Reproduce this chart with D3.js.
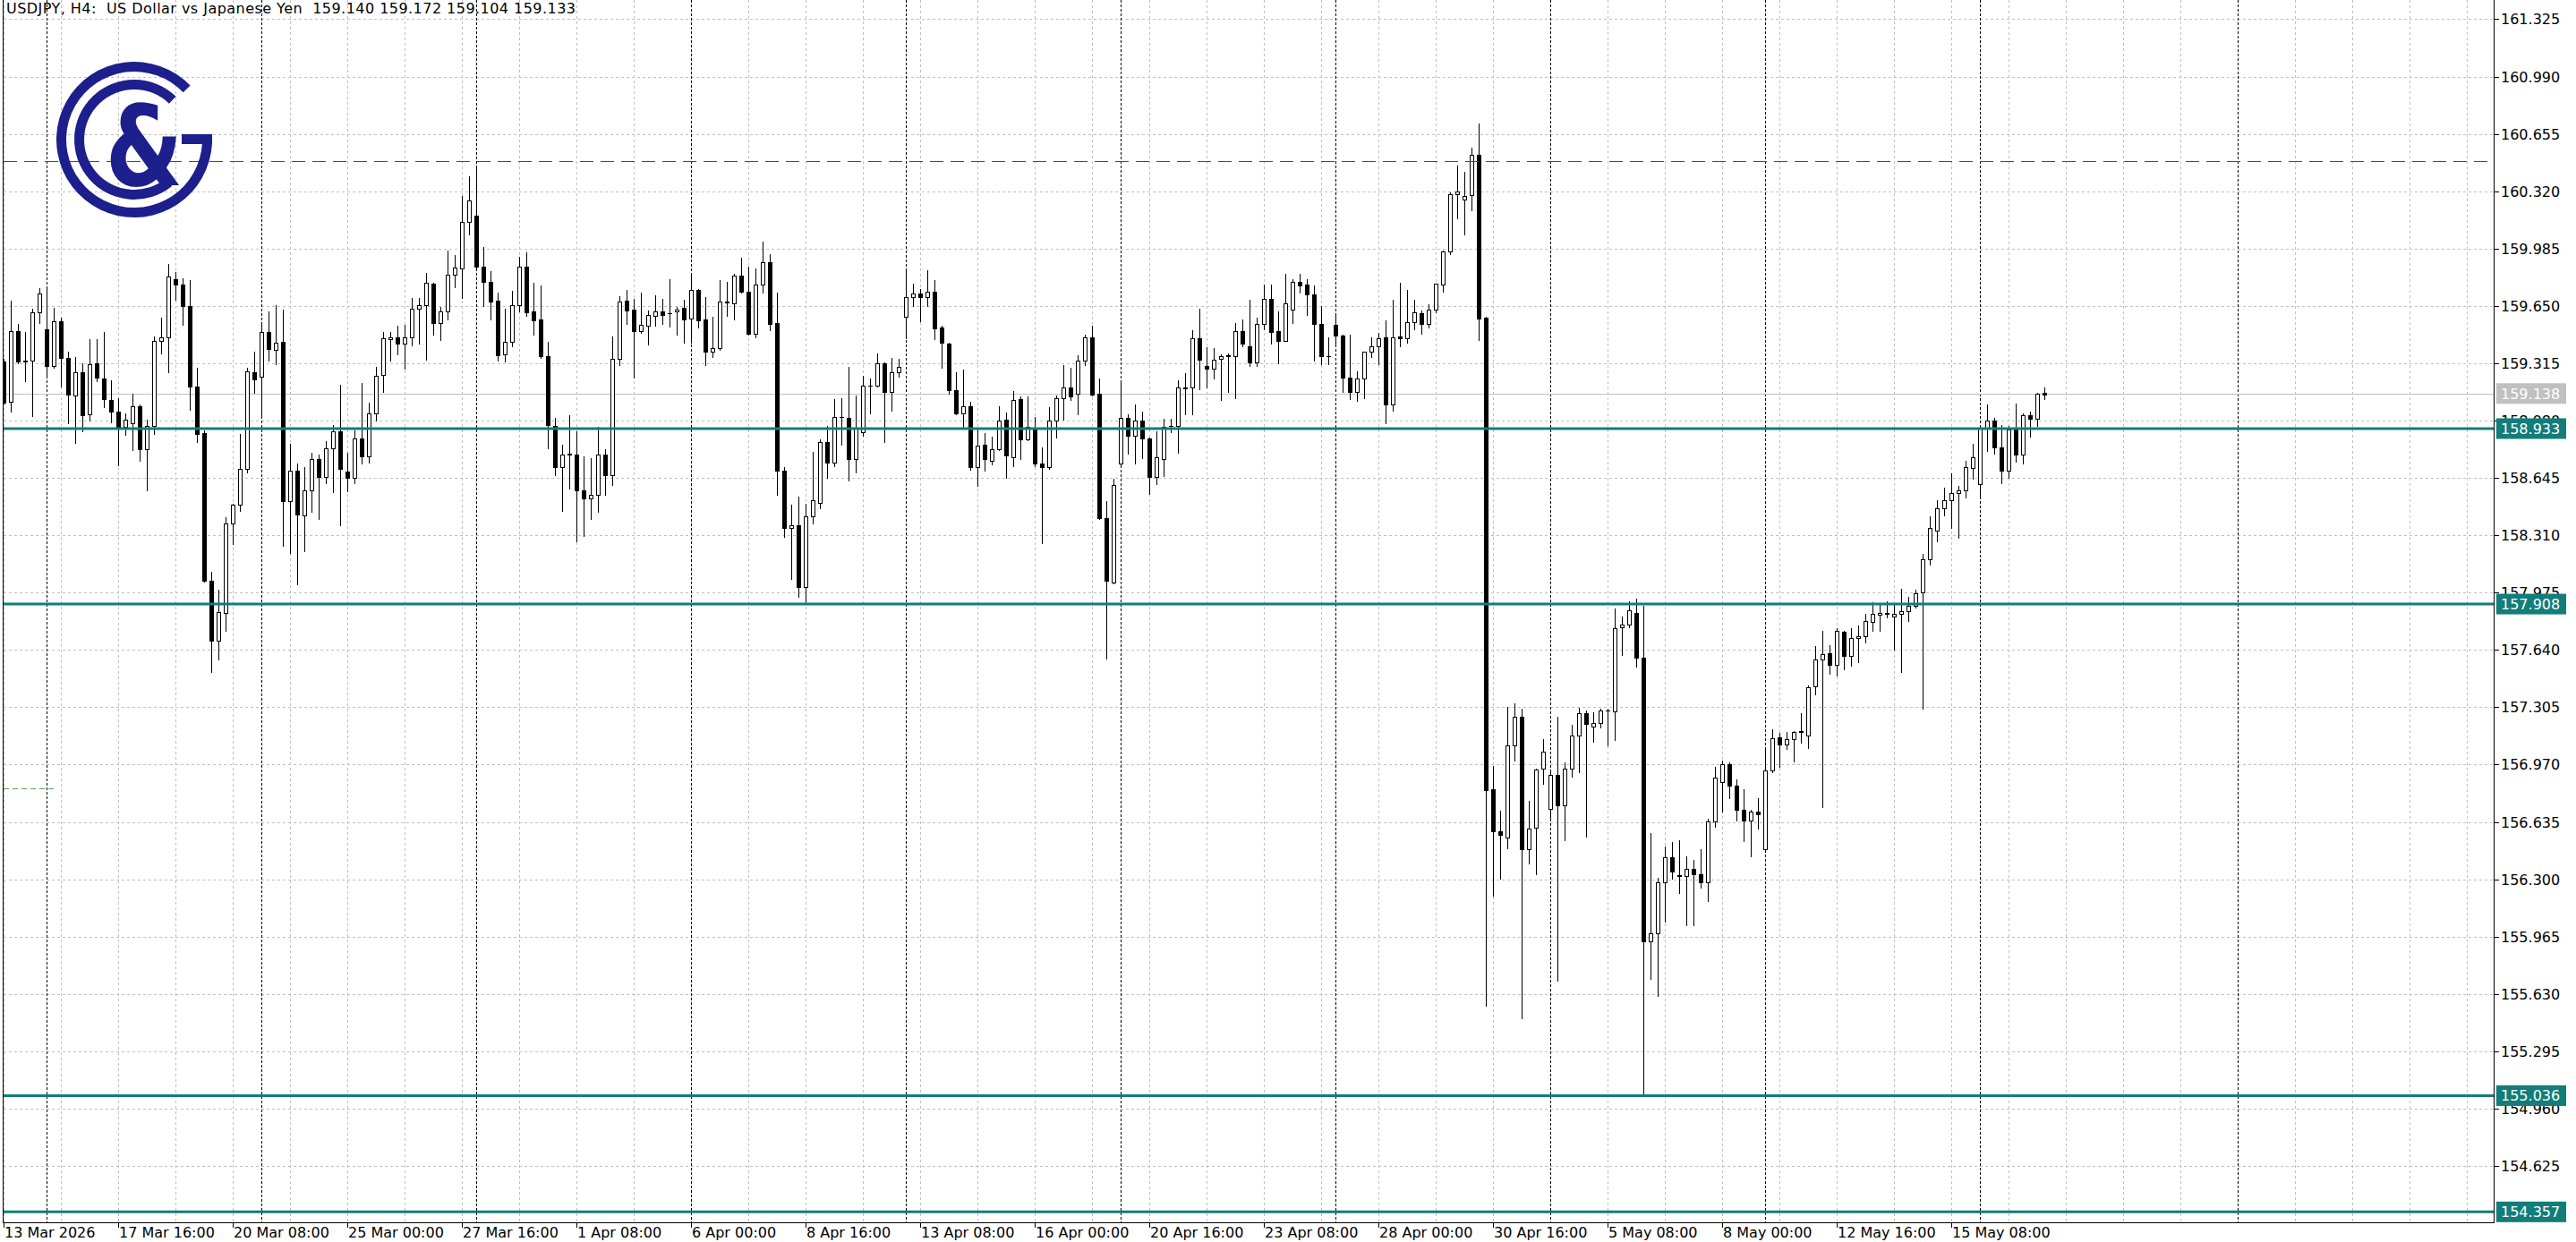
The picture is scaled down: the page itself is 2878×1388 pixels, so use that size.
<!DOCTYPE html>
<html><head><meta charset="utf-8">
<script src="https://cdn.jsdelivr.net/npm/d3@7"></script>
<style>html,body{margin:0;padding:0;background:#fff;overflow:hidden}</style>
</head><body>
<svg id="c" width="2878" height="1388"></svg>
<script>
const title = "USDJPY, H4:  US Dollar vs Japanese Yen  159.140 159.172 159.104 159.133";

const open = [
159.327,159.090,159.505,159.327,159.331,159.613,159.513,159.299,159.560,159.344,
159.125,159.264,159.017,159.317,159.226,159.101,159.034,158.944,158.965,159.066,
158.813,158.947,159.447,159.466,159.806,159.775,159.649,159.179,158.907,158.045,
157.696,157.858,158.381,158.489,158.698,159.264,159.238,159.499,159.391,159.440,
158.508,158.686,158.428,158.573,158.756,158.651,158.820,158.918,158.682,158.646,
158.874,158.773,159.020,159.245,159.454,159.465,159.428,159.465,159.633,159.656,
159.780,159.552,159.616,159.834,159.869,160.139,160.177,159.877,159.789,159.681,
159.367,159.438,159.656,159.877,159.616,159.569,159.358,158.949,158.710,158.784,
158.780,158.574,158.527,158.548,158.780,158.663,159.341,159.681,159.628,159.503,
159.532,159.590,159.616,159.608,159.616,159.639,159.578,159.741,159.569,159.381,
159.402,159.672,159.663,159.825,159.733,159.485,159.773,159.903,159.551,158.687,
158.353,158.367,158.010,158.419,158.501,158.855,158.733,159.000,158.994,158.757,
158.910,159.183,159.184,159.315,159.149,159.262,159.584,159.699,159.720,159.703,
159.734,159.523,159.430,159.159,159.024,159.062,158.710,158.837,158.745,158.815,
158.984,158.767,159.106,158.872,158.931,158.727,158.710,158.980,159.111,159.172,
159.137,159.328,159.468,159.137,158.410,158.036,158.727,158.997,158.893,158.980,
158.875,158.649,158.753,158.948,158.949,159.170,159.171,159.459,159.297,159.285,
159.341,159.358,159.355,159.503,159.415,159.320,159.543,159.691,159.503,159.447,
159.630,159.790,159.772,159.715,159.546,159.357,159.537,159.476,159.232,159.145,
159.224,159.381,159.412,159.464,159.076,159.471,159.459,159.555,159.607,159.543,
159.630,159.772,159.969,160.304,160.269,160.295,160.530,159.581,156.828,156.582,
156.546,157.082,157.249,156.476,156.602,156.946,156.712,156.908,156.732,156.948,
157.139,157.273,157.193,157.213,157.286,157.283,157.774,157.788,157.854,157.597,
155.935,155.985,156.281,156.428,156.323,156.321,156.361,156.327,156.285,156.636,
156.868,156.972,156.846,156.706,156.642,156.698,156.476,156.938,157.127,157.087,
157.117,157.162,157.140,157.428,157.585,157.623,157.553,157.748,157.606,157.710,
157.722,157.806,157.846,157.854,157.835,157.849,157.867,157.898,157.975,158.168,
158.337,158.468,158.515,158.555,158.572,158.703,158.607,158.933,158.978,158.824,
158.686,158.926,158.781,159.013,158.990,159.140];

const high = [
159.340,159.682,159.543,159.499,159.635,159.752,159.757,159.641,159.581,159.383,
159.353,159.313,159.456,159.456,159.496,159.214,159.113,159.020,159.139,159.073,
158.986,159.470,159.583,159.897,159.850,159.810,159.801,159.287,158.925,158.097,
157.994,158.416,158.494,158.900,159.287,159.383,159.540,159.618,159.656,159.630,
158.846,158.729,158.709,158.794,158.782,158.860,158.956,159.191,158.790,158.925,
159.200,159.087,159.296,159.498,159.498,159.534,159.541,159.698,159.698,159.843,
159.785,159.642,159.973,159.947,160.290,160.409,160.452,159.994,159.851,159.729,
159.634,159.738,159.938,159.964,159.785,159.769,159.438,158.998,158.837,159.012,
158.916,158.771,158.762,158.942,158.815,159.471,159.708,159.742,159.689,159.729,
159.621,159.712,159.691,159.808,159.642,159.686,159.825,159.747,159.703,159.586,
159.799,159.790,159.837,159.930,159.877,159.869,160.025,159.952,159.729,158.710,
158.489,158.536,158.496,158.797,158.872,158.949,159.106,159.111,159.294,159.128,
159.241,159.227,159.372,159.320,159.346,159.341,159.851,159.778,159.750,159.856,
159.799,159.534,159.437,159.262,159.276,159.088,158.928,158.907,158.884,159.064,
159.029,159.154,159.123,159.123,159.001,158.823,159.058,159.128,159.302,159.288,
159.360,159.482,159.534,159.224,158.510,158.640,159.198,159.018,159.076,159.032,
158.879,158.919,158.989,158.989,159.215,159.259,159.506,159.633,159.407,159.401,
159.367,159.372,159.551,159.572,159.685,159.581,159.773,159.773,159.616,159.837,
159.807,159.837,159.807,159.769,159.651,159.464,159.598,159.482,159.482,159.267,
159.384,159.464,159.494,159.564,159.685,159.785,159.743,159.685,159.621,159.659,
159.781,159.973,160.312,160.469,160.434,160.574,160.713,159.585,156.962,156.702,
157.309,157.329,157.297,156.756,156.948,157.119,156.942,157.249,156.982,157.203,
157.303,157.287,157.277,157.297,157.297,157.884,157.834,157.924,157.938,157.898,
156.572,156.311,156.492,156.516,156.528,156.436,156.411,156.476,156.652,156.956,
156.996,156.982,156.882,156.828,156.706,156.776,157.056,157.177,157.153,157.163,
157.167,157.273,157.435,157.661,157.754,157.670,157.766,157.754,157.766,157.783,
157.849,157.919,157.905,157.924,157.905,157.998,157.950,157.992,158.201,158.421,
158.515,158.590,158.673,158.598,158.747,158.846,158.938,159.072,158.996,158.956,
158.947,159.081,159.020,159.030,159.144,159.172];

const low = [
159.080,159.034,159.317,159.209,159.005,159.548,159.243,159.287,159.177,158.965,
158.851,158.918,158.979,159.212,159.057,158.968,158.721,158.895,158.808,158.747,
158.573,158.900,159.371,159.261,159.688,159.540,159.043,158.855,158.041,157.510,
157.583,157.751,158.259,158.451,158.677,159.144,159.013,159.331,159.308,158.247,
158.207,158.024,158.216,158.446,158.407,158.613,158.564,158.369,158.567,158.616,
158.729,158.733,158.982,159.146,159.332,159.367,159.282,159.419,159.430,159.337,
159.482,159.451,159.573,159.761,159.694,160.069,159.872,159.651,159.573,159.332,
159.323,159.416,159.616,159.590,159.482,159.346,158.820,158.661,158.454,158.585,
158.275,158.304,158.405,158.449,158.545,158.606,159.303,159.546,159.233,159.494,
159.424,159.534,159.546,159.529,159.482,159.433,159.433,159.525,159.303,159.350,
159.395,159.593,159.569,159.729,159.482,159.465,159.726,159.506,158.545,158.301,
158.053,157.949,157.909,158.379,158.466,158.646,158.715,158.841,158.632,158.675,
158.893,159.024,159.180,158.855,159.036,159.238,159.459,159.651,159.558,159.647,
159.454,159.290,159.137,159.018,158.945,158.693,158.600,158.687,158.722,158.809,
158.646,158.715,158.754,158.867,158.715,158.266,158.698,158.879,158.984,159.099,
159.018,159.302,159.128,158.405,157.592,158.031,158.720,158.788,158.727,158.762,
158.553,158.611,158.658,158.914,158.792,159.018,159.018,159.163,159.171,159.227,
159.102,159.145,159.111,159.415,159.297,159.297,159.511,159.429,159.314,159.447,
159.551,159.726,159.598,159.332,159.311,159.307,159.415,159.145,159.105,159.093,
159.111,159.349,159.311,158.963,159.036,159.415,159.433,159.511,159.485,159.523,
159.610,159.733,159.952,160.161,160.069,160.208,159.450,155.560,156.205,156.305,
156.482,156.992,155.490,156.391,156.331,156.856,156.642,155.706,156.526,156.898,
156.928,156.548,157.103,157.189,157.082,157.113,157.609,157.774,157.543,155.036,
155.720,155.620,156.051,156.301,156.221,156.031,156.031,156.251,156.175,156.608,
156.696,156.776,156.642,156.522,156.436,156.596,156.472,156.928,156.956,157.062,
156.986,157.096,157.065,157.379,156.722,157.501,157.492,157.527,157.545,157.567,
157.684,157.750,157.750,157.832,157.644,157.510,157.811,157.888,157.295,158.137,
158.273,158.424,158.355,158.294,158.532,158.642,158.525,158.804,158.787,158.612,
158.647,158.738,158.729,158.886,158.950,159.104];

const close = [
159.087,159.505,159.327,159.330,159.613,159.722,159.299,159.560,159.344,159.130,
159.264,159.012,159.310,159.229,159.104,159.031,158.940,158.986,159.066,158.813,
158.947,159.447,159.466,159.822,159.775,159.649,159.179,158.900,158.045,157.693,
157.862,158.381,158.489,158.698,159.270,159.221,159.499,159.400,159.435,158.508,
158.686,158.433,158.573,158.756,158.651,158.820,158.918,158.698,158.646,158.874,
158.773,159.020,159.240,159.459,159.468,159.428,159.465,159.633,159.656,159.785,
159.552,159.616,159.830,159.874,160.139,160.266,159.877,159.789,159.677,159.364,
159.438,159.656,159.877,159.613,159.567,159.358,158.954,158.710,158.783,158.781,
158.574,158.527,158.548,158.780,158.663,159.341,159.674,159.625,159.503,159.538,
159.595,159.616,159.599,159.606,159.628,159.572,159.741,159.564,159.381,159.402,
159.674,159.676,159.825,159.733,159.485,159.773,159.903,159.546,158.687,158.353,
158.370,158.010,158.419,158.513,158.855,158.733,159.001,159.002,158.757,158.931,
159.184,159.185,159.315,159.149,159.262,159.294,159.699,159.720,159.703,159.734,
159.520,159.437,159.159,159.024,159.062,158.710,158.832,158.757,158.811,158.980,
158.775,159.102,158.872,158.945,158.727,158.710,158.980,159.111,159.172,159.120,
159.328,159.468,159.133,158.410,158.043,158.606,158.997,158.893,158.980,158.875,
158.649,158.766,158.945,158.950,159.171,159.172,159.459,159.337,159.285,159.337,
159.355,159.360,159.503,159.429,159.320,159.543,159.691,159.499,159.447,159.665,
159.790,159.769,159.715,159.546,159.355,159.356,159.476,159.232,159.145,159.224,
159.381,159.412,159.459,159.076,159.468,159.459,159.555,159.610,159.543,159.630,
159.778,159.969,160.304,160.318,160.290,160.530,159.576,156.822,156.578,156.562,
157.082,157.249,156.476,156.596,156.942,157.046,156.908,156.732,156.948,157.139,
157.273,157.207,157.213,157.287,157.288,157.767,157.788,157.874,157.593,155.935,
155.985,156.281,156.428,156.345,156.321,156.361,156.327,156.285,156.636,156.896,
156.972,156.846,156.706,156.642,156.698,156.682,156.938,157.122,157.087,157.117,
157.163,157.164,157.423,157.585,157.614,157.553,157.754,157.606,157.710,157.722,
157.811,157.849,157.858,157.852,157.849,157.867,157.898,157.971,158.168,158.351,
158.468,158.515,158.555,158.572,158.706,158.767,158.933,158.978,158.821,158.686,
158.926,158.781,159.013,158.990,159.138,159.133];

const yTicks = [161.325,160.990,160.655,160.320,159.985,159.650,159.315,158.980,158.645,158.310,
  157.975,157.640,157.305,156.970,156.635,156.300,155.965,155.630,155.295,154.960,154.625];
const xLabelBars = [0,16,32,48,64,80,96,112,128,144,160,176,192,208,224,240,256,272];
const xLabels = ["13 Mar 2026","17 Mar 16:00","20 Mar 08:00","25 Mar 00:00","27 Mar 16:00","1 Apr 08:00",
  "6 Apr 00:00","8 Apr 16:00","13 Apr 08:00","16 Apr 00:00","20 Apr 16:00","23 Apr 08:00",
  "28 Apr 00:00","30 Apr 16:00","5 May 08:00","8 May 00:00","12 May 16:00","15 May 08:00"];
const separatorBars = [6,36,66,96,126,156,186,216,246,276,312];
const levels = [158.933,157.908,155.036,154.357];
const targetLevel = 160.495;
const shortLevel = 156.832;
const bidPrice = 159.138;

// ---------- drawing ----------
const W = 2878, H = 1388;
const L = 4, R = 2786, T = 0, B = 1366;
const barStep = 8;
const TEAL = "#127d79", NAVY = "#1c1f8c", GRID = "#c0c0c0";
const FONT = "DejaVu Sans";

const x = d3.scaleLinear().domain([0, (R - L) / barStep]).range([L, R]);
const y = d3.scaleLinear().domain([154.296, 161.437]).range([B, T]);
const px = v => Math.round(x(v));
const py = v => Math.round(y(v));

const svg = d3.select("#c");
svg.append("rect").attr("width", W).attr("height", H).attr("fill", "#fff");
svg.append("defs").append("clipPath").attr("id", "plot")
  .append("rect").attr("x", L).attr("y", T).attr("width", R - L).attr("height", B - T);

const g = svg.append("g").attr("clip-path", "url(#plot)");

// horizontal grid
g.append("g").selectAll("line").data(yTicks).join("line")
  .attr("x1", L).attr("x2", R)
  .attr("y1", d => py(d) + 0.5).attr("y2", d => py(d) + 0.5)
  .attr("stroke", GRID).attr("stroke-width", 1).attr("stroke-dasharray", "3,3");

// vertical grid every 8 bars
const gridBars = d3.range(0, (R - L) / barStep, 8).filter(b => !separatorBars.includes(b));
g.append("g").selectAll("line").data(gridBars).join("line")
  .attr("x1", d => px(d) + 0.5).attr("x2", d => px(d) + 0.5)
  .attr("y1", T).attr("y2", B)
  .attr("stroke", GRID).attr("stroke-width", 1).attr("stroke-dasharray", "3,3");

// period separators
g.append("g").selectAll("line").data(separatorBars).join("line")
  .attr("x1", d => px(d) + 0.5).attr("x2", d => px(d) + 0.5)
  .attr("y1", T).attr("y2", B)
  .attr("stroke", "#000").attr("stroke-width", 1).attr("stroke-dasharray", "3,2");

// logo
const logo = svg.append("g").attr("transform", "translate(150,156)");
const deg = Math.PI / 180;
const arc = d3.arc();
logo.append("path").attr("d", arc({innerRadius: 76, outerRadius: 87, startAngle: 86 * deg, endAngle: 406 * deg})).attr("fill", NAVY);
logo.append("path").attr("d", arc({innerRadius: 56, outerRadius: 67, startAngle: 141 * deg, endAngle: 404 * deg})).attr("fill", NAVY);
logo.append("rect").attr("x", 53).attr("y", -6).attr("width", 34).attr("height", 11).attr("fill", NAVY);
logo.append("text").text("&")
  .attr("transform", "translate(11,51) scale(0.8,1)")
  .attr("text-anchor", "middle")
  .attr("font-family", FONT).attr("font-weight", "bold").attr("font-size", 124)
  .attr("fill", NAVY);

// bid line
g.append("line").attr("x1", L).attr("x2", R)
  .attr("y1", py(bidPrice) + 0.5).attr("y2", py(bidPrice) + 0.5)
  .attr("stroke", GRID).attr("stroke-width", 1);

// candles
const bars = open.map((o, i) => ({i, o, h: high[i], l: low[i], c: close[i]}));
const cg = g.append("g");
cg.selectAll("line.wick").data(bars).join("line").attr("class", "wick")
  .attr("x1", d => px(d.i) + 0.5).attr("x2", d => px(d.i) + 0.5)
  .attr("y1", d => py(d.h)).attr("y2", d => py(d.l) + 1)
  .attr("stroke", "#000").attr("stroke-width", 1);

bars.forEach(d => {
  const cx = px(d.i);
  const top = py(Math.max(d.o, d.c));
  const bot = py(Math.min(d.o, d.c));
  if (bot - top < 1) {
    cg.append("line").attr("x1", cx - 2).attr("x2", cx + 3)
      .attr("y1", top + 0.5).attr("y2", top + 0.5).attr("stroke", "#000");
  } else if (d.c > d.o) {
    cg.append("rect").attr("x", cx - 1.5).attr("y", top + 0.5)
      .attr("width", 4).attr("height", Math.max(bot - top, 1))
      .attr("fill", "#fff").attr("stroke", "#000").attr("stroke-width", 1);
  } else {
    cg.append("rect").attr("x", cx - 2).attr("y", top)
      .attr("width", 5).attr("height", Math.max(bot - top + 1, 1))
      .attr("fill", "#000");
  }
});

// horizontal level lines
g.append("g").selectAll("line").data(levels).join("line")
  .attr("x1", L).attr("x2", R)
  .attr("y1", d => y(d)).attr("y2", d => y(d))
  .attr("stroke", TEAL).attr("stroke-width", 3);

g.append("line").attr("x1", L).attr("x2", R - 4)
  .attr("y1", py(targetLevel) + 0.5).attr("y2", py(targetLevel) + 0.5)
  .attr("stroke", "#1f6a1f").attr("stroke-width", 1).attr("stroke-dasharray", "15,8");
g.append("line").attr("x1", L).attr("x2", px(7))
  .attr("y1", py(shortLevel) + 0.5).attr("y2", py(shortLevel) + 0.5)
  .attr("stroke", "#5f9f5f").attr("stroke-width", 1).attr("stroke-dasharray", "6,4");

// frame
svg.append("line").attr("x1", L - 0.5).attr("x2", L - 0.5).attr("y1", T).attr("y2", B + 1).attr("stroke", "#000");
svg.append("line").attr("x1", R + 0.5).attr("x2", R + 0.5).attr("y1", T).attr("y2", B + 1).attr("stroke", "#000");
svg.append("line").attr("x1", L - 1).attr("x2", R + 1).attr("y1", B + 0.5).attr("y2", B + 0.5).attr("stroke", "#000");

// right axis ticks and labels
const ya = svg.append("g");
ya.selectAll("line").data(yTicks).join("line")
  .attr("x1", R).attr("x2", R + 6)
  .attr("y1", d => py(d) + 0.5).attr("y2", d => py(d) + 0.5).attr("stroke", "#000");
ya.selectAll("text").data(yTicks).join("text")
  .attr("x", R + 8).attr("y", d => py(d) + 0.5).attr("dy", "0.36em")
  .attr("font-family", FONT).attr("font-size", 16).attr("fill", "#000")
  .text(d => d.toFixed(3));

// price tags
const tags = levels.map(v => ({v, fill: TEAL})).concat([{v: bidPrice, fill: GRID}]);
const tg = svg.append("g").selectAll("g").data(tags).join("g")
  .attr("transform", d => `translate(0,${y(d.v)})`);
tg.append("rect").attr("x", R + 3).attr("y", -11.5).attr("width", 78).attr("height", 23).attr("fill", d => d.fill);
tg.append("text").attr("x", R + 8).attr("y", 0).attr("dy", "0.36em")
  .attr("font-family", FONT).attr("font-size", 16).attr("fill", "#fff")
  .text(d => d.v.toFixed(3));

// bottom axis ticks and labels
const xa = svg.append("g");
xa.selectAll("line").data(xLabelBars).join("line")
  .attr("x1", d => px(d) + 0.5).attr("x2", d => px(d) + 0.5)
  .attr("y1", B).attr("y2", B + 6).attr("stroke", "#000");
xa.selectAll("text").data(xLabelBars).join("text")
  .attr("x", d => px(d) + 1).attr("y", 1383)
  .attr("font-family", FONT).attr("font-size", 16).attr("fill", "#000")
  .text((d, k) => xLabels[k]);

// title
svg.append("text").attr("x", 7).attr("y", 15)
  .attr("font-family", FONT).attr("font-size", 16).attr("fill", "#000")
  .style("white-space", "pre")
  .attr("textLength", 636).attr("lengthAdjust", "spacing")
  .text(title);
</script>
</body></html>
